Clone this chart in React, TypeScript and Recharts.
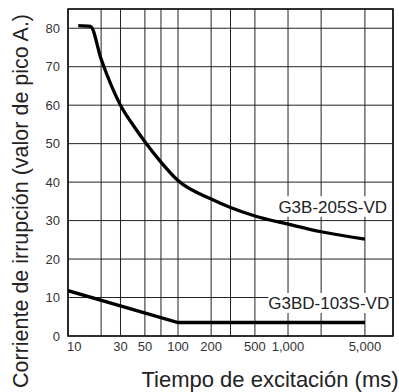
import {
  LineChart,
  Line,
  XAxis,
  YAxis,
  CartesianGrid,
  ReferenceArea,
} from "recharts";

const xTicks = [10, 20, 30, 50, 70, 100, 200, 300, 500, 1000, 2000, 5000];
const xLabelled = [10, 30, 50, 100, 200, 500, 1000, 5000];
const yTicks = [0, 10, 20, 30, 40, 50, 60, 70, 80];

// G3B-205S-VD
const g3bTime = [12.4, 16, 20, 30, 40, 50, 70, 100, 200, 300, 500, 1000, 2000, 5000];
const g3bCurrent = [80.7, 80.5, 72, 60, 54.4, 50.5, 45.2, 40.4, 35.6, 33.4, 31.2, 29.1, 27.1, 25.2];

// G3BD-103S-VD
const g3bdTime = [10, 100, 5000];
const g3bdCurrent = [11.8, 3.5, 3.5];

const g3bData = g3bTime.map((t, i) => ({ t, v: g3bCurrent[i] }));
const g3bdData = g3bdTime.map((t, i) => ({ t, v: g3bdCurrent[i] }));

const TICK_FONT = "'Liberation Sans Narrow', 'Liberation Sans', Arial, sans-serif";
const FONT = "'Liberation Sans', Arial, Helvetica, sans-serif";

function XTick({ x, y, payload }: any) {
  if (!xLabelled.includes(payload.value)) return <g />;
  const first = payload.value === 10;
  return (
    <text
      x={first ? x - 1 : x}
      y={y - 2}
      dy="0.71em"
      textAnchor={first ? "start" : "middle"}
      fontSize={13}
      fontFamily={TICK_FONT}
      fill="#333"
    >
      {payload.value.toLocaleString("en-US")}
    </text>
  );
}

function seriesLabel(text: string) {
  return {
    value: text,
    position: "center" as const,
    fontSize: 17,
    fontFamily: FONT,
    fill: "#222",
  };
}

export default function App() {
  return (
    <div style={{ position: "absolute", left: 0, top: 0, background: "#fff" }}>
      <LineChart
        width={399}
        height={392}
        margin={{ top: 9, right: 6, bottom: 0, left: 0 }}
      >
        <CartesianGrid stroke="#222" strokeWidth={1} />
        <XAxis
          dataKey="t"
          type="number"
          scale="log"
          domain={[10, 9000]}
          allowDataOverflow
          ticks={xTicks}
          interval={0}
          tick={<XTick />}
          tickLine={false}
          axisLine={false}
          height={56}
          label={{
            content: () => (
              <text
                x={270}
                y={387}
                textAnchor="middle"
                fontSize={22}
                fontFamily={FONT}
                fill="#222"
              >
                Tiempo de excitación (ms)
              </text>
            ),
          }}
        />
        <YAxis
          type="number"
          domain={[0, 85]}
          allowDataOverflow
          ticks={yTicks}
          interval={0}
          tickLine={false}
          axisLine={false}
          width={68}
          tick={{ fontSize: 13, fontFamily: TICK_FONT, fill: "#333" }}
          label={{
            content: () => (
              <text
                x={28}
                y={201}
                transform="rotate(-90 28 201)"
                textAnchor="middle"
                fontSize={21.5}
                fontFamily={FONT}
                fill="#222"
              >
                Corriente de irrupción (valor de pico A.)
              </text>
            ),
          }}
        />
        <ReferenceArea
          x1={783}
          x2={8300}
          y1={31}
          y2={36.3}
          fill="#fff"
          fillOpacity={1}
          stroke="none"
          label={seriesLabel("G3B-205S-VD")}
        />
        <ReferenceArea
          x1={662}
          x2={8300}
          y1={6}
          y2={11.2}
          fill="#fff"
          fillOpacity={1}
          stroke="none"
          label={seriesLabel("G3BD-103S-VD")}
        />
        <ReferenceArea
          x1={10}
          x2={9000}
          y1={0}
          y2={85}
          fill="none"
          stroke="#111"
          strokeWidth={1.6}
        />
        <Line
          data={g3bData}
          dataKey="v"
          type="monotone"
          stroke="#000"
          strokeWidth={3.3}
          dot={false}
          isAnimationActive={false}
        />
        <Line
          data={g3bdData}
          dataKey="v"
          type="linear"
          stroke="#000"
          strokeWidth={3.4}
          dot={false}
          isAnimationActive={false}
        />
      </LineChart>
    </div>
  );
}
